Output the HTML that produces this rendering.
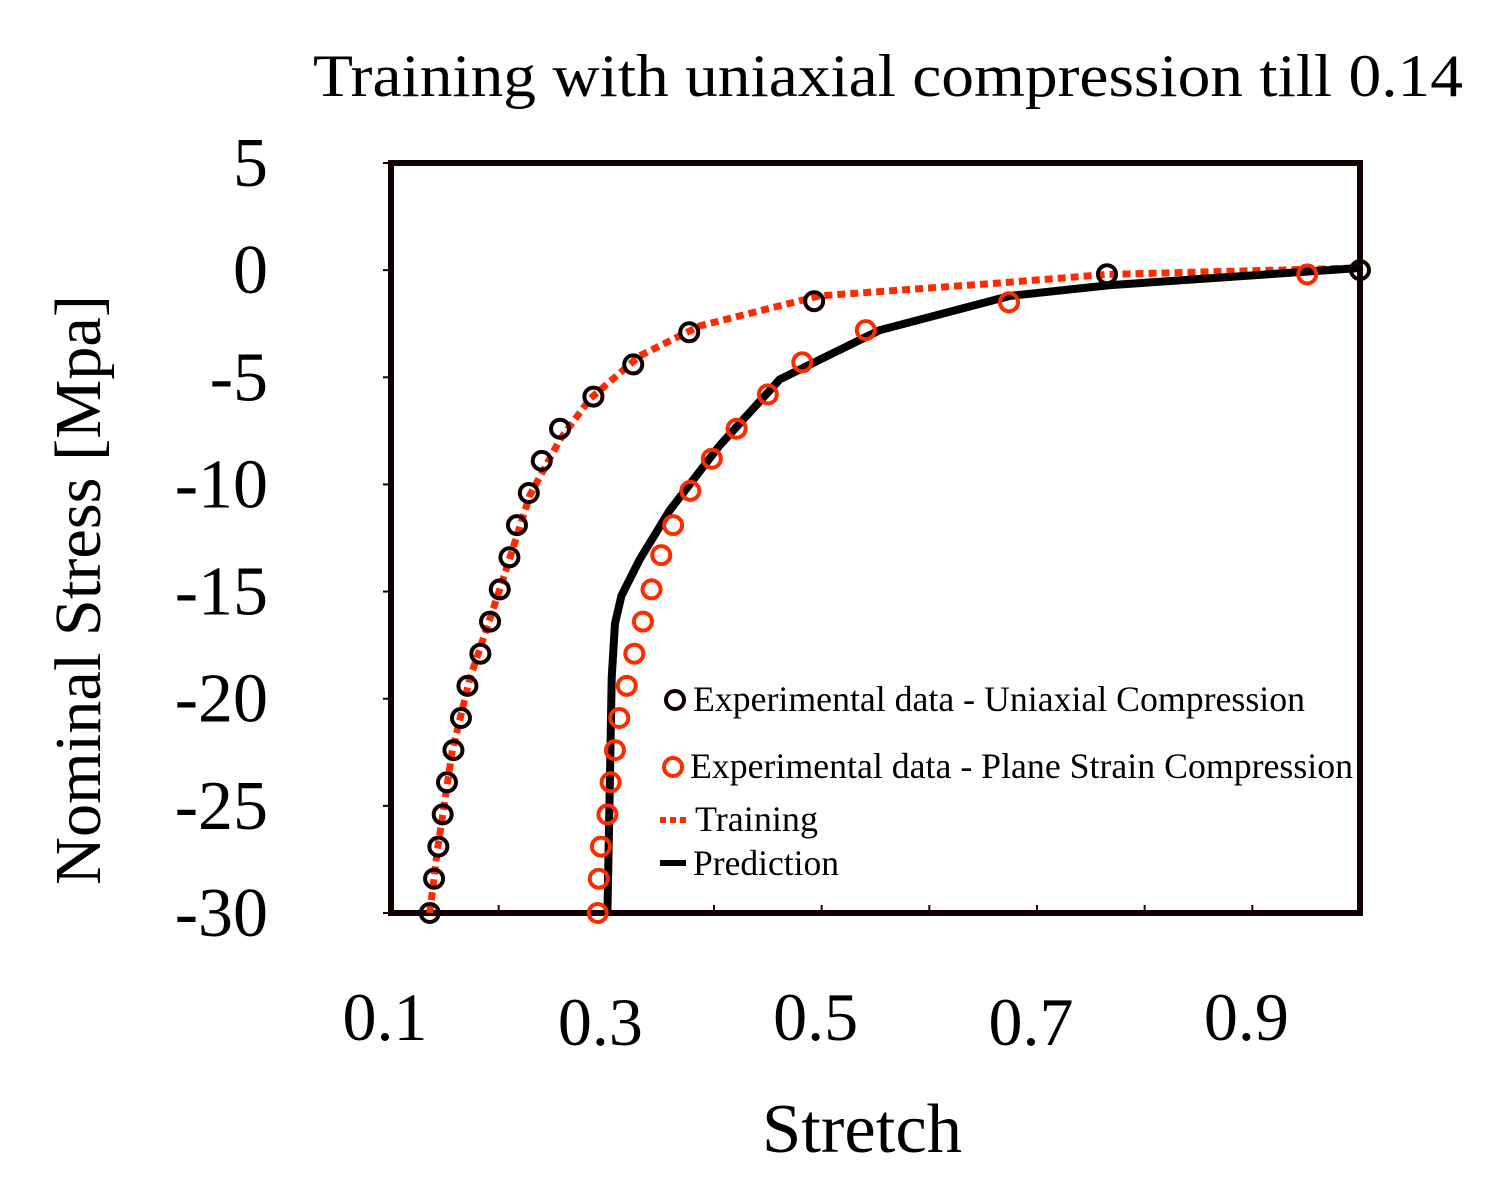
<!DOCTYPE html>
<html><head><meta charset="utf-8"><style>
html,body{margin:0;padding:0;background:#fff;}
svg{display:block;font-family:"Liberation Serif",serif;}
</style></head><body>
<svg id="chart" width="1507" height="1187" viewBox="0 0 1507 1187">
<text x="313" y="96" font-size="60" textLength="1150" lengthAdjust="spacingAndGlyphs">Training with uniaxial compression till 0.14</text>
<g id="yticks"></g>
<g id="xticks"></g>
<text transform="translate(100,590) rotate(-90)" font-size="66" text-anchor="middle" textLength="590" lengthAdjust="spacingAndGlyphs">Nominal Stress [Mpa]</text>
<text x="762" y="1152" font-size="70" textLength="200" lengthAdjust="spacingAndGlyphs">Stretch</text>
<g id="plot"></g>
<g>
<circle cx="675" cy="700" r="9" fill="none" stroke="#100000" stroke-width="4"/>
<text x="693" y="711" font-size="36" textLength="612" lengthAdjust="spacingAndGlyphs">Experimental data - Uniaxial Compression</text>
<circle cx="673" cy="767" r="9" fill="none" stroke="#ff2a00" stroke-width="4"/>
<text x="690" y="778" font-size="36" textLength="663" lengthAdjust="spacingAndGlyphs">Experimental data - Plane Strain Compression</text>
<line x1="660" y1="820" x2="686" y2="820" stroke="#ff2a00" stroke-width="6" stroke-dasharray="6,4"/>
<text x="695" y="831" font-size="36" textLength="123" lengthAdjust="spacingAndGlyphs">Training</text>
<line x1="660" y1="863" x2="686" y2="863" stroke="#000" stroke-width="6"/>
<text x="693" y="875" font-size="36" textLength="146" lengthAdjust="spacingAndGlyphs">Prediction</text>
</g>
</svg>
<script>
const xTickValues=[0.1,0.3,0.5,0.7,0.9];
const xTickLabels=["0.1","0.3","0.5","0.7","0.9"];
const xMinorTicks=[0.2,0.3,0.4,0.5,0.6,0.7,0.8,0.9];
const yTickValues=[5,0,-5,-10,-15,-20,-25,-30];
const yTickLabels=["5","0","-5","-10","-15","-20","-25","-30"];
const uniX=[0.136,0.140,0.144,0.148,0.152,0.158,0.165,0.171,0.183,0.192,0.201,0.210,0.217,0.228,0.240,0.257,0.288,0.325,0.377,0.493,0.765,1.0];
const uniY=[-30,-28.4,-26.9,-25.4,-23.9,-22.4,-20.9,-19.4,-17.9,-16.4,-14.9,-13.4,-11.9,-10.4,-8.9,-7.4,-5.9,-4.4,-2.9,-1.45,-0.19,0];
const psX=[0.292,0.293,0.295,0.301,0.304,0.308,0.312,0.319,0.326,0.334,0.342,0.351,0.362,0.378,0.398,0.421,0.450,0.482,0.541,0.674,0.951];
const psY=[-30,-28.4,-26.9,-25.4,-23.9,-22.4,-20.9,-19.4,-17.9,-16.4,-14.9,-13.3,-11.9,-10.3,-8.8,-7.4,-5.8,-4.3,-2.8,-1.5,-0.2];
const trainX=[0.136,0.143,0.157,0.173,0.201,0.229,0.257,0.285,0.331,0.387,0.498,0.665,0.765,1.0];
const trainY=[-30,-27.1,-22.4,-19.1,-14.9,-10.5,-7.9,-6.0,-4.0,-2.6,-1.2,-0.6,-0.2,0.1];
const predX=[0.301,0.303,0.305,0.308,0.314,0.331,0.359,0.405,0.461,0.554,0.675,0.768,1.0];
const predY=[-30,-24.7,-19.0,-16.5,-15.2,-13.5,-11.2,-8.2,-5.1,-2.8,-1.2,-0.7,0.1];

const L=391,R=1360,T=163,B=913,xMin=0.1,xMax=1.0,yMin=-30,yMax=5;
const sx=v=>L+(v-xMin)/(xMax-xMin)*(R-L);
const sy=v=>B-(v-yMin)/(yMax-yMin)*(B-T);
const NS="http://www.w3.org/2000/svg";
function mk(tag,attrs,parent){const e=document.createElementNS(NS,tag);for(const k in attrs)e.setAttribute(k,attrs[k]);parent.appendChild(e);return e;}
const plot=document.getElementById('plot'),xt=document.getElementById('xticks'),yt=document.getElementById('yticks');

yTickValues.forEach((v,i)=>{
 const t=mk('text',{x:268,y:sy(v)+23,'font-size':70,'text-anchor':'end'},yt);
 t.textContent=yTickLabels[i];
 
 
 const k=mk('line',{x1:L,x2:L-8,y1:sy(v),y2:sy(v),stroke:'#100000','stroke-width':2},yt);
 
 
});
xTickValues.forEach((v,i)=>{
 const t=mk('text',{x:sx(v)-6,y:i%2?1045:1040,'font-size':68,'text-anchor':'middle'},xt);
 t.textContent=xTickLabels[i];
 
 
});
xMinorTicks.forEach(v=>{
 const k=mk('line',{x1:sx(v),x2:sx(v),y1:B,y2:B-8,stroke:'#100000','stroke-width':2},plot);
 
 
});
const frame=mk('rect',{x:L,y:T,width:R-L,height:B-T,fill:'none',stroke:'#100000','stroke-width':6},plot);



const pts=(xs,ys)=>xs.map((x,i)=>sx(x)+','+sy(ys[i])).join(' ');
const tr=mk('polyline',{points:pts(trainX,trainY),fill:'none',stroke:'#ff2a00','stroke-width':7,'stroke-dasharray':'8,5'},plot);


const pr=mk('polyline',{points:pts(predX,predY),fill:'none',stroke:'#000','stroke-width':8,'stroke-linejoin':'round'},plot);


psX.forEach((x,i)=>{
 const c=mk('circle',{cx:sx(x),cy:sy(psY[i]),r:9,fill:'none',stroke:'#ff2a00','stroke-width':4},plot);
 
 
});
uniX.forEach((x,i)=>{
 const c=mk('circle',{cx:sx(x),cy:sy(uniY[i]),r:9,fill:'none',stroke:'#100000','stroke-width':4},plot);
 
 
});
</script>
</body></html>
